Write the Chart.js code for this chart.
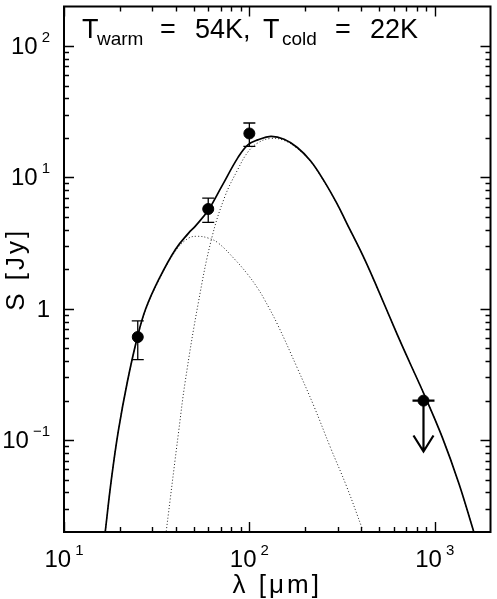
<!DOCTYPE html>
<html>
<head>
<meta charset="utf-8">
<script src="https://cdn.jsdelivr.net/npm/chart.js@4.4.1/dist/chart.umd.min.js"></script>
<style>
  body { margin: 0; background: #fff; }
  canvas { display: block; }
</style>
</head>
<body>
<canvas id="sed" width="497" height="599"></canvas>
<script>
// total model (solid)
var totWave = [16.7, 18.0, 19.65, 22.0, 24.9, 27.6, 32.5, 39.9, 47.0, 51.0, 60.1, 70.7, 86.9, 98.2, 111, 130.6, 154, 181.4, 213.6, 251.8, 296.6, 335, 411, 474, 619, 729, 877, 1099, 1349, 1621];
var totFlux = [0.0202, 0.0498, 0.118, 0.281, 0.61, 1.00, 1.68, 2.83, 3.77, 4.24, 5.65, 8.47, 14.2, 17.7, 19.3, 20.5, 19.5, 16.9, 13.4, 9.5, 6.34, 4.49, 2.52, 1.61, 0.668, 0.397, 0.223, 0.105, 0.047, 0.0203];

// warm component (dotted)
var warmWave = [16.7, 18.0, 19.65, 22.0, 24.9, 27.6, 32.5, 39.9, 47.0, 53.1, 60.1, 67.9, 83.4, 98.2, 111, 120.5, 141.9, 181.4, 222.8, 273.2, 335, 408];
var warmFlux = [0.0202, 0.0498, 0.118, 0.28, 0.60, 0.98, 1.65, 2.75, 3.45, 3.56, 3.45, 3.17, 2.38, 1.82, 1.43, 1.18, 0.76, 0.354, 0.182, 0.0886, 0.0443, 0.0209];

// cold component (dotted)
var coldWave = [35.6, 41.6, 45.1, 53.1, 62.5, 73.7, 86.9, 98.2, 111, 130.6, 154, 181.4, 213.6, 251.8, 296.6, 335, 411, 474, 619, 729, 877, 1099, 1349, 1621];
var coldFlux = [0.0202, 0.118, 0.281, 1.12, 3.4, 7.12, 11.6, 15.6, 18.3, 19.8, 19.1, 16.6, 13.2, 9.4, 6.3, 4.46, 2.50, 1.60, 0.668, 0.397, 0.223, 0.105, 0.047, 0.0203];

// measurements
var obsWave = [25, 60, 100];
var obsFlux = [0.61, 5.75, 21.6];
var obsErr  = [0.20, 1.20, 4.35];

// upper limit
var limWave = [870];
var limFlux = [0.2];
var limArrowTo = [0.082];

// axis ticks
var xMajor = [10, 100, 1000];
var xMinor = [20, 30, 40, 50, 60, 70, 80, 90, 200, 300, 400, 500, 600, 700, 800, 900];
var yMajor = [0.1, 1, 10, 100];
var yMinor = [0.03, 0.04, 0.05, 0.06, 0.07, 0.08, 0.09, 0.2, 0.3, 0.4, 0.5, 0.6, 0.7, 0.8, 0.9,
              2, 3, 4, 5, 6, 7, 8, 9, 20, 30, 40, 50, 60, 70, 80, 90];
var xLabelBase = ['10', '10', '10'];
var xLabelExp  = ['1', '2', '3'];
var yLabelBase = ['10', '1', '10', '10'];
var yLabelExp  = ['\u22121', '', '1', '2'];

function pairs(xs, ys) {
  var out = [];
  for (var i = 0; i < xs.length; i++) out.push({x: xs[i], y: ys[i]});
  return out;
}

var FONT = '"Liberation Sans", "DejaVu Sans", sans-serif';

function supText(ctx, base, exp, x, y, size, align) {
  var es = Math.round(size * 0.64);
  ctx.font = size + 'px ' + FONT;
  var wb = ctx.measureText(base).width;
  ctx.font = es + 'px ' + FONT;
  var we = exp ? ctx.measureText(exp).width + 4 : 0;
  var w = wb + we;
  var x0 = align === 'center' ? x - w / 2 : (align === 'right' ? x - w : x);
  ctx.textAlign = 'left';
  ctx.textBaseline = 'alphabetic';
  ctx.font = size + 'px ' + FONT;
  ctx.fillText(base, x0, y);
  if (exp) {
    ctx.font = es + 'px ' + FONT;
    ctx.fillText(exp, x0 + wb + 4, y - size * 0.5);
  }
}

var decor = {
  id: 'decor',
  afterDatasetsDraw: function (chart) {
    var ctx = chart.ctx, x = chart.scales.x, y = chart.scales.y;
    ctx.save();
    ctx.strokeStyle = '#000';
    // error bars
    ctx.lineWidth = 1.3;
    for (var i = 0; i < obsWave.length; i++) {
      var px = x.getPixelForValue(obsWave[i]);
      var lo = y.getPixelForValue(obsFlux[i] - obsErr[i]);
      var hi = y.getPixelForValue(obsFlux[i] + obsErr[i]);
      ctx.beginPath();
      ctx.moveTo(px, lo); ctx.lineTo(px, hi);
      ctx.moveTo(px - 6, lo); ctx.lineTo(px + 6, lo);
      ctx.moveTo(px - 6, hi); ctx.lineTo(px + 6, hi);
      ctx.stroke();
    }
    // upper limit
    ctx.lineWidth = 2.2;
    for (var j = 0; j < limWave.length; j++) {
      var lx = x.getPixelForValue(limWave[j]);
      var ly = y.getPixelForValue(limFlux[j]);
      var le = y.getPixelForValue(limArrowTo[j]);
      ctx.beginPath();
      ctx.moveTo(lx - 11, ly); ctx.lineTo(lx + 11, ly);
      ctx.moveTo(lx, ly); ctx.lineTo(lx, le);
      ctx.moveTo(lx - 10, le - 16); ctx.lineTo(lx, le); ctx.lineTo(lx + 10, le - 16);
      ctx.stroke();
    }
    ctx.restore();
  },
  afterDraw: function (chart) {
    var ctx = chart.ctx, a = chart.chartArea, x = chart.scales.x, y = chart.scales.y;
    ctx.save();
    ctx.strokeStyle = '#000';
    ctx.fillStyle = '#000';
    ctx.lineWidth = 2;
    ctx.strokeRect(a.left, a.top, a.right - a.left, a.bottom - a.top);
    // inward ticks on all four sides
    ctx.lineWidth = 1.4;
    ctx.beginPath();
    function xt(v, len) {
      var p = Math.round(x.getPixelForValue(v)) + 0.5;
      ctx.moveTo(p, a.bottom); ctx.lineTo(p, a.bottom - len);
      ctx.moveTo(p, a.top); ctx.lineTo(p, a.top + len);
    }
    function yt(v, len) {
      var p = Math.round(y.getPixelForValue(v)) + 0.5;
      ctx.moveTo(a.left, p); ctx.lineTo(a.left + len, p);
      ctx.moveTo(a.right, p); ctx.lineTo(a.right - len, p);
    }
    xMajor.forEach(function (v) { xt(v, 10); });
    xMinor.forEach(function (v) { xt(v, 5); });
    yMajor.forEach(function (v) { yt(v, 10); });
    yMinor.forEach(function (v) { yt(v, 5); });
    ctx.stroke();

    // tick labels
    for (var i = 0; i < xMajor.length; i++) {
      supText(ctx, xLabelBase[i], xLabelExp[i], x.getPixelForValue(xMajor[i]), 567, 24, 'center');
    }
    for (var k = 0; k < yMajor.length; k++) {
      supText(ctx, yLabelBase[k], yLabelExp[k], 50, y.getPixelForValue(yMajor[k]) + 8, 24, 'right');
    }

    // axis titles
    ctx.font = '26px ' + FONT;
    ctx.letterSpacing = '3px';
    ctx.textAlign = 'center';
    ctx.textBaseline = 'alphabetic';
    ctx.fillText('\u03bb [\u03bcm]', (a.left + a.right) / 2, 593);
    ctx.save();
    ctx.translate(24, (a.top + a.bottom) / 2);
    ctx.rotate(-Math.PI / 2);
    ctx.fillText('S [Jy]', 0, 0);
    ctx.restore();
    ctx.letterSpacing = '0px';

    // title with subscripts
    var parts = [['T', 82, 0], ['warm', 97, 1], ['=', 160, 0], ['54K,', 195, 0],
                 ['T', 263, 0], ['cold', 282, 1], ['=', 335, 0], ['22K', 370, 0]];
    ctx.textAlign = 'left';
    parts.forEach(function (p) {
      ctx.font = (p[2] ? 19 : 27) + 'px ' + FONT;
      ctx.fillText(p[0], p[1], p[2] ? 45 : 38);
    });
    ctx.restore();
  }
};

new Chart(document.getElementById('sed'), {
  type: 'line',
  data: {
    datasets: [
      {
        label: 'total',
        data: pairs(totWave, totFlux),
        borderColor: '#000',
        borderWidth: 1.7,
        pointRadius: 0,
        tension: 0.4,
        fill: false
      },
      {
        label: 'warm',
        data: pairs(warmWave, warmFlux),
        borderColor: '#222',
        borderWidth: 1,
        borderDash: [1, 2.2],
        pointRadius: 0,
        tension: 0.4,
        fill: false
      },
      {
        label: 'cold',
        data: pairs(coldWave, coldFlux),
        borderColor: '#222',
        borderWidth: 1,
        borderDash: [1, 2.2],
        pointRadius: 0,
        tension: 0.4,
        fill: false
      },
      {
        type: 'scatter',
        label: 'data',
        data: pairs(obsWave.concat(limWave), obsFlux.concat(limFlux)),
        backgroundColor: '#000',
        borderColor: '#000',
        pointRadius: 5.5,
        pointHoverRadius: 5.5
      }
    ]
  },
  options: {
    responsive: false,
    devicePixelRatio: 1,
    animation: false,
    layout: { padding: { left: 64, right: 1, top: 2, bottom: 67 } },
    plugins: { legend: { display: false }, tooltip: { enabled: false } },
    scales: {
      x: { type: 'logarithmic', min: 10, max: 2000, display: false },
      y: { type: 'logarithmic', min: 0.02, max: 200, display: false }
    }
  },
  plugins: [decor]
});
</script>
</body>
</html>
